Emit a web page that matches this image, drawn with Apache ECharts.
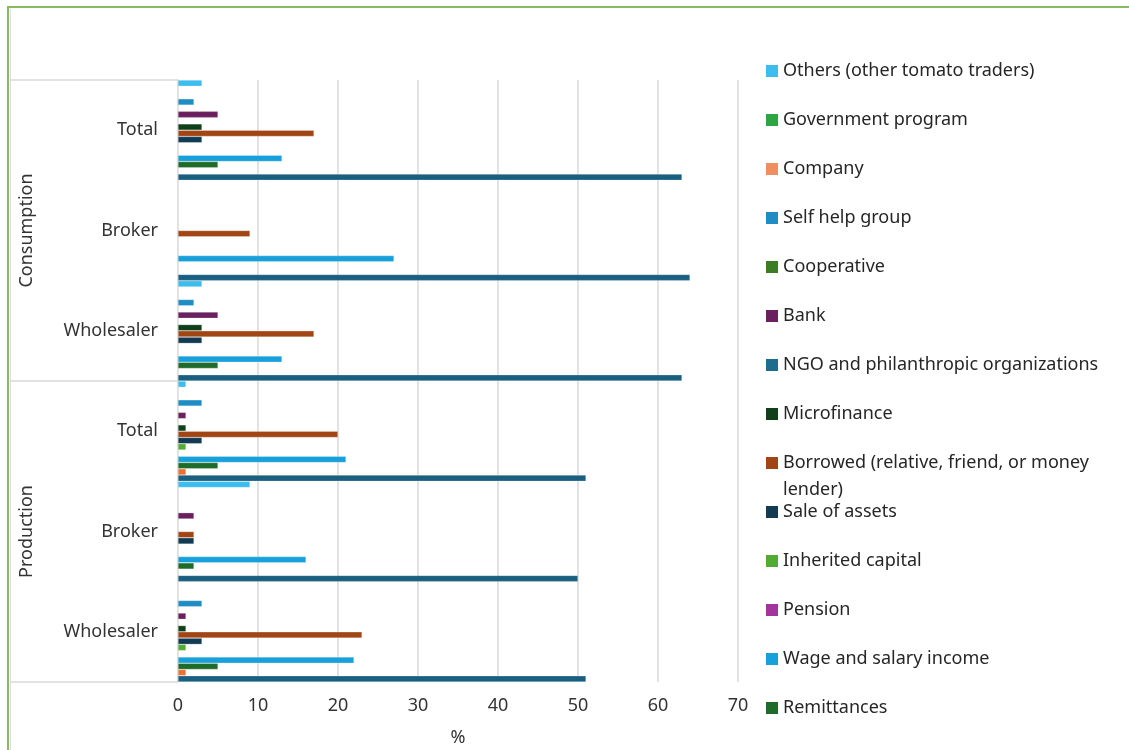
<!DOCTYPE html>
<html>
<head>
<meta charset="utf-8">
<script src="https://cdn.jsdelivr.net/npm/echarts@6/dist/echarts.min.js"></script>
<style>
  html, body { margin: 0; background: #fff; }
  #chart { width: 1129px; height: 750px; }
</style>
</head>
<body>
<div id="chart"></div>
<script>
// y axis categories, listed bottom -> top
const groups = ['Production', 'Production', 'Production', 'Consumption', 'Consumption', 'Consumption']
const categories = ['Wholesaler', 'Broker', 'Total', 'Wholesaler', 'Broker', 'Total']

// % per category (same order as above)
const others       = [0, 9, 1, 3, 0, 3]
const government   = [0, 0, 0, 0, 0, 0]
const company      = [0, 0, 0, 0, 0, 0]
const selfHelp     = [3, 0, 3, 2, 0, 2]
const cooperative  = [0, 0, 0, 0, 0, 0]
const bank         = [1, 2, 1, 5, 0, 5]
const ngo          = [0, 0, 0, 0, 0, 0]
const microfinance = [1, 0, 1, 3, 0, 3]
const borrowed     = [23, 2, 20, 17, 9, 17]
const saleAssets   = [3, 2, 3, 3, 0, 3]
const inherited    = [1, 0, 1, 0, 0, 0]
const pension      = [0, 0, 0, 0, 0, 0]
const wage         = [22, 16, 21, 13, 27, 13]
const remittances  = [5, 2, 5, 5, 0, 5]
// last two series: their legend entries are cut off in the source chart
const unlabeledA   = [1, 0, 1, 0, 0, 0]
const unlabeledB   = [51, 50, 51, 63, 64, 63]

const BORROWED = 'Borrowed (relative, friend, or money lender)'

// order = top -> bottom inside each category band
const seriesDefs = [
  ['Others (other tomato traders)', others, '#3dbdee'],
  ['Government program', government, '#2ea443'],
  ['Company', company, '#f08e5f'],
  ['Self help group', selfHelp, '#1f8cc3'],
  ['Cooperative', cooperative, '#3b7d23'],
  ['Bank', bank, '#6a1f5e'],
  ['NGO and philanthropic organizations', ngo, '#1d6d8f'],
  ['Microfinance', microfinance, '#10401a'],
  [BORROWED, borrowed, '#a24515'],
  ['Sale of assets', saleAssets, '#123b53'],
  ['Inherited capital', inherited, '#52ab33'],
  ['Pension', pension, '#a2349b'],
  ['Wage and salary income', wage, '#17a0d9'],
  ['Remittances', remittances, '#1f6c2a'],
  ['', unlabeledA, '#e97132'],
  [' ', unlabeledB, '#1a5f80'],
]

const font = 'Noto Sans, sans-serif'
const textColor = '#333'
const fs = 18

const chart = echarts.init(document.getElementById('chart'))

const legendBase = {
  orient: 'vertical',
  left: 766,
  padding: 0,
  icon: 'rect',
  itemWidth: 12,
  itemHeight: 12,
  itemGap: 29,
  selectedMode: false,
  itemStyle: { borderWidth: 0 },
  textStyle: { fontFamily: font, fontSize: fs, color: '#262626', lineHeight: 20 },
}
const names = seriesDefs.map(d => d[0])

chart.setOption({
  animation: false,
  backgroundColor: '#fff',
  textStyle: { fontFamily: font },
  grid: { left: 178, right: 391, top: 80, bottom: 68, outerBoundsMode: 'none' },
  legend: [
    { ...legendBase, top: 61, data: names.slice(0, 8) },
    {
      ...legendBase, top: 422.5, data: [BORROWED],
      formatter: () => ' \nBorrowed (relative, friend, or money\nlender)',
      textStyle: { ...legendBase.textStyle, lineHeight: 27 },
    },
    { ...legendBase, top: 502, data: names.slice(9, 14) },
  ],
  xAxis: {
    type: 'value',
    min: 0, max: 70, interval: 10,
    name: '%',
    nameLocation: 'middle',
    nameGap: 47,
    nameTextStyle: { fontSize: fs, color: textColor },
    axisLine: { show: false },
    axisTick: { show: false },
    axisLabel: { fontSize: fs, color: textColor, margin: 15 },
    splitLine: { lineStyle: { color: '#d9d9d9', width: 1.5 } },
  },
  yAxis: {
    type: 'category',
    data: categories.map((c, i) => groups[i] + '|' + c),
    axisLine: { lineStyle: { color: '#d9d9d9', width: 1.5 } },
    axisTick: { show: false },
    axisLabel: {
      fontSize: fs, color: textColor, margin: 20,
      formatter: (v, i) => categories[i],
    },
  },
  series: seriesDefs.map(([name, data, color]) => ({
    name,
    type: 'bar',
    data,
    barGap: '0%',
    barCategoryGap: '0%',
    itemStyle: { color, borderColor: 'rgba(255,255,255,0.5)', borderWidth: 0.5 },
  })),
})

// group labels + separators on the left, placed from the axis scale
function drawDecor() {
  const y = i => chart.convertToPixel({ yAxisIndex: 0 }, i)
  const half = (y(0) - y(1)) / 2
  const bounds = [y(0) + half, (y(2) + y(3)) / 2, y(5) - half]
  const groupMid = [y(1), y(4)]
  const gridLeft = chart.convertToPixel({ xAxisIndex: 0 }, 0)

  const graphic = [
    { type: 'rect', shape: { x: 8, y: 7, width: 1300, height: 900 },
      style: { fill: 'none', stroke: '#86bb63', lineWidth: 2 }, z: 10 },
    { type: 'line', shape: { x1: 10.5, y1: 9, x2: 10.5, y2: 760 },
      style: { stroke: '#dedede', lineWidth: 1 } },
  ]
  bounds.forEach(b => graphic.push({
    type: 'line', shape: { x1: 10, y1: b, x2: gridLeft, y2: b },
    style: { stroke: '#d9d9d9', lineWidth: 1.5 },
  }))
  ;['Production', 'Consumption'].forEach((g, k) => graphic.push({
    type: 'text', x: 27, y: groupMid[k], rotation: Math.PI / 2,
    style: { text: g, fontFamily: font, fontSize: fs, fill: textColor, align: 'center', verticalAlign: 'middle' },
  }))
  chart.setOption({ graphic })
}
drawDecor()
</script>
</body>
</html>
